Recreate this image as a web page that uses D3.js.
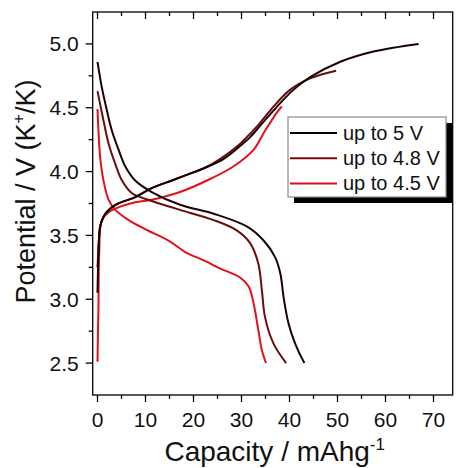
<!DOCTYPE html>
<html>
<head>
<meta charset="utf-8">
<script src="https://cdn.jsdelivr.net/npm/d3@7/dist/d3.min.js"></script>
<style>
  html, body { margin: 0; padding: 0; background: #fff; }
  svg { display: block; font-family: "Liberation Sans", Arial, sans-serif; }
</style>
</head>
<body>
<svg id="chart" width="457" height="468"></svg>
<script>
// Charge / discharge profiles for three upper cut-off voltages
const seriesNames = ["up to 5 V", "up to 4.8 V", "up to 4.5 V"];
const seriesColors = ["#1a0202", "#6a0c0c", "#e2101a"];

// up to 5 V
const charge5Cap = [0, 0.15, 0.35, 0.56, 1.6, 3.7, 7.85, 11.3, 15.5, 19.0, 22.4, 26.3, 29.7, 31.8, 33.9, 36.7, 40.8, 44.3, 50.6, 57.5, 66.9];
const charge5V   = [3.05, 3.3, 3.5, 3.57, 3.67, 3.74, 3.80, 3.87, 3.93, 3.98, 4.03, 4.10, 4.20, 4.27, 4.36, 4.48, 4.64, 4.74, 4.86, 4.94, 5.0];
const discharge5Cap = [0, 0.9, 1.95, 3.0, 4.4, 5.8, 7.85, 11.3, 17.2, 24.2, 31.1, 34.6, 37.0, 38.1, 38.75, 39.8, 41.2, 43.1];
const discharge5V   = [4.86, 4.66, 4.48, 4.32, 4.17, 4.04, 3.93, 3.84, 3.74, 3.67, 3.57, 3.46, 3.33, 3.20, 3.02, 2.81, 2.65, 2.50];

// up to 4.8 V
const charge48Cap = [0, 0.2, 0.4, 0.6, 1.7, 3.8, 7.9, 11.3, 15.5, 19.0, 22.4, 25.6, 29.5, 31.1, 33.6, 36.0, 40.1, 44.3, 49.7];
const charge48V   = [3.25, 3.4, 3.52, 3.58, 3.67, 3.74, 3.80, 3.87, 3.93, 3.98, 4.03, 4.10, 4.21, 4.27, 4.37, 4.48, 4.64, 4.73, 4.79];
const discharge48Cap = [0, 1.25, 2.3, 3.7, 5.1, 7.2, 11.3, 17.2, 24.2, 29.0, 31.8, 33.5, 34.25, 34.9, 36.7, 39.3];
const discharge48V   = [4.63, 4.40, 4.22, 4.06, 3.93, 3.83, 3.77, 3.70, 3.62, 3.54, 3.44, 3.28, 3.07, 2.86, 2.65, 2.50];

// up to 4.5 V
const charge45Cap = [0, 0.1, 0.2, 0.35, 0.9, 2.3, 3.7, 7.85, 11.3, 17.2, 22.8, 28.3, 32.5, 34.9, 37.7, 38.4];
const charge45V   = [2.51, 2.75, 2.94, 3.35, 3.62, 3.68, 3.71, 3.76, 3.78, 3.84, 3.93, 4.04, 4.17, 4.32, 4.48, 4.51];
const discharge45Cap = [0, 0.2, 0.56, 1.25, 2.3, 3.7, 6.5, 9.9, 14.8, 18.3, 22.4, 25.6, 29.7, 31.5, 32.5, 33.5, 34.25, 35.1];
const discharge45V   = [4.49, 4.32, 4.11, 3.93, 3.78, 3.70, 3.62, 3.55, 3.46, 3.37, 3.30, 3.24, 3.17, 3.10, 2.97, 2.76, 2.60, 2.50];

// Axis ticks
const xMajorTicks = [0, 10, 20, 30, 40, 50, 60, 70];
const xMinorTicks = [5, 15, 25, 35, 45, 55, 65];
const yMajorTicks = [2.5, 3.0, 3.5, 4.0, 4.5, 5.0];
const yMinorTicks = [2.75, 3.25, 3.75, 4.25, 4.75];

const curves = [
  { cap: charge5Cap, v: charge5V, s: 0 },
  { cap: discharge5Cap, v: discharge5V, s: 0 },
  { cap: charge48Cap, v: charge48V, s: 1 },
  { cap: discharge48Cap, v: discharge48V, s: 1 },
  { cap: charge45Cap, v: charge45V, s: 2 },
  { cap: discharge45Cap, v: discharge45V, s: 2 }
];

const svg = d3.select("#chart");
const plotLeft = 92.7, plotRight = 452.7, plotTop = 12, plotBottom = 395;

const x = d3.scaleLinear().domain([-1, 74]).range([plotLeft, plotRight]);
const y = d3.scaleLinear().domain([2.25, 5.25]).range([plotBottom, plotTop]);

// Curves, drawn first so the frame sits on top
const line = d3.line()
  .x(d => x(d[0]))
  .y(d => y(d[1]))
  .curve(d3.curveCatmullRom.alpha(0.5));

const plot = svg.append("g");
// draw 4.5 V first, then 4.8 V, then 5 V on top
[4, 5, 2, 3, 0, 1].forEach(i => {
  const c = curves[i];
  plot.append("path")
    .datum(d3.zip(c.cap, c.v))
    .attr("d", line)
    .attr("fill", "none")
    .attr("stroke", seriesColors[c.s])
    .attr("stroke-width", 2)
    .attr("stroke-linejoin", "round");
});

// Frame
svg.append("rect")
  .attr("x", plotLeft).attr("y", plotTop)
  .attr("width", plotRight - plotLeft).attr("height", plotBottom - plotTop)
  .attr("fill", "none").attr("stroke", "#000").attr("stroke-width", 1.3);

// Bottom axis: outward ticks
const bx = svg.append("g").attr("transform", `translate(0,${plotBottom})`);
bx.selectAll(".maj").data(xMajorTicks).join("line").attr("class", "maj")
  .attr("x1", d => x(d)).attr("x2", d => x(d))
  .attr("y1", 0).attr("y2", 7).attr("stroke", "#000").attr("stroke-width", 1.3);
bx.selectAll(".min").data(xMinorTicks).join("line").attr("class", "min")
  .attr("x1", d => x(d)).attr("x2", d => x(d))
  .attr("y1", 0).attr("y2", 4).attr("stroke", "#000").attr("stroke-width", 1.3);
bx.selectAll("text").data(xMajorTicks).join("text")
  .attr("x", d => x(d)).attr("y", 32)
  .attr("text-anchor", "middle").attr("font-size", 21).attr("fill", "#111")
  .text(d => d);

// Top axis: inward ticks
const tx = svg.append("g").attr("transform", `translate(0,${plotTop})`);
tx.selectAll(".maj").data(xMajorTicks).join("line").attr("class", "maj")
  .attr("x1", d => x(d)).attr("x2", d => x(d))
  .attr("y1", 0).attr("y2", 7).attr("stroke", "#000").attr("stroke-width", 1.3);
tx.selectAll(".min").data(xMinorTicks).join("line").attr("class", "min")
  .attr("x1", d => x(d)).attr("x2", d => x(d))
  .attr("y1", 0).attr("y2", 4).attr("stroke", "#000").attr("stroke-width", 1.3);

// Left axis: outward ticks
const ly = svg.append("g").attr("transform", `translate(${plotLeft},0)`);
ly.selectAll(".maj").data(yMajorTicks).join("line").attr("class", "maj")
  .attr("y1", d => y(d)).attr("y2", d => y(d))
  .attr("x1", 0).attr("x2", -7).attr("stroke", "#000").attr("stroke-width", 1.3);
ly.selectAll(".min").data(yMinorTicks).join("line").attr("class", "min")
  .attr("y1", d => y(d)).attr("y2", d => y(d))
  .attr("x1", 0).attr("x2", -4).attr("stroke", "#000").attr("stroke-width", 1.3);
ly.selectAll("text").data(yMajorTicks).join("text")
  .attr("x", -14).attr("y", d => y(d) + 7.5)
  .attr("text-anchor", "end").attr("font-size", 21).attr("fill", "#111")
  .text(d => d.toFixed(1));

// Axis titles
const xt = svg.append("text")
  .attr("x", (plotLeft + plotRight) / 2 + 2).attr("y", 461)
  .attr("text-anchor", "middle").attr("font-size", 28).attr("fill", "#111");
xt.append("tspan").text("Capacity / mAhg");
xt.append("tspan").attr("dy", -11).attr("font-size", 17).text("-1");

const yt = svg.append("text")
  .attr("transform", `translate(35,${(plotTop + plotBottom) / 2 - 12}) rotate(-90)`)
  .attr("text-anchor", "middle").attr("font-size", 27).attr("fill", "#111");
yt.append("tspan").text("Potential / V (K");
yt.append("tspan").attr("dy", -11).attr("font-size", 16).text("+");
yt.append("tspan").attr("dy", 11).text("/K)");

// Legend with drop shadow
const lg = svg.append("g").attr("transform", "translate(288,117)");
lg.append("rect").attr("x", 6).attr("y", 6).attr("width", 158).attr("height", 80).attr("fill", "#000");
lg.append("rect").attr("x", 0).attr("y", 0).attr("width", 158).attr("height", 80)
  .attr("fill", "#fff").attr("stroke", "#8a8a8a").attr("stroke-width", 1.2);
const legendColors = ["#000", "#7a0c0c", "#d8101a"];
seriesNames.forEach((name, i) => {
  const yy = 16 + i * 25.2;
  lg.append("line").attr("x1", 2).attr("x2", 49).attr("y1", yy).attr("y2", yy)
    .attr("stroke", legendColors[i]).attr("stroke-width", 2);
  lg.append("text").attr("x", 55).attr("y", yy + 7)
    .attr("font-size", 20).attr("fill", "#111").text(name);
});
</script>
</body>
</html>
